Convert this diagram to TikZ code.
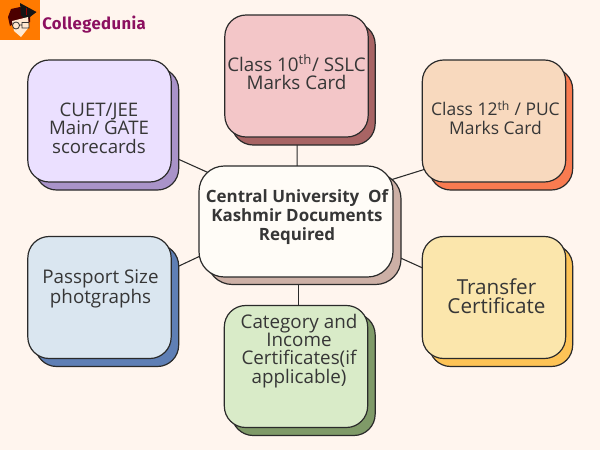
\documentclass[tikz,border=0pt]{standalone}
\usepackage{fontspec}
\setmainfont{Open Sans}
\newfontfamily\brandfont[LetterSpace=2.5]{Fira Sans}
\usetikzlibrary{backgrounds}
\definecolor{bgc}{HTML}{FFF5EE}
\definecolor{ink}{HTML}{2A2A2A}
\definecolor{txt}{HTML}{363636}
\definecolor{brand}{HTML}{8C1060}
\definecolor{orangeb}{HTML}{FF7A00}
\definecolor{fa}{HTML}{F3C6C8}\definecolor{sa}{HTML}{A86464}
\definecolor{fb}{HTML}{EBE0FF}\definecolor{sb}{HTML}{A993C9}
\definecolor{fc}{HTML}{F8D9BE}\definecolor{sc}{HTML}{F97B50}
\definecolor{fd}{HTML}{FFFCF7}\definecolor{sd}{HTML}{CDB0A6}
\definecolor{fe}{HTML}{DAE6F0}\definecolor{se}{HTML}{5F7FB5}
\definecolor{ff}{HTML}{FBE6AC}\definecolor{sf}{HTML}{FDC356}
\definecolor{fg}{HTML}{D9EBC8}\definecolor{sg}{HTML}{7F9A68}
\tikzset{
  x=0.75pt,y=-0.75pt,
  card/.style={draw=ink,line width=0.9pt,rounded corners=16pt,inner sep=0pt,
    minimum width=107.5pt,minimum height=#1},
  hub/.style={card=83.25pt,minimum width=145.5pt,rounded corners=19pt},
  link/.style={draw=ink,line width=0.8pt},
  body/.style={text=txt,align=center,font=\fontsize{14.1}{13.6}\selectfont,inner sep=0pt},
}
\begin{document}
\begin{tikzpicture}
\useasboundingbox (0,0) rectangle (600,450);
% shadows
\node[card=91.5pt,fill=sa] (topS) at (303.5,84) {};
\node[card=91.5pt,fill=sb] (ltS) at (107,129) {};
\node[card=91.5pt,fill=sc] (rtS) at (501,129) {};
\node[card=91.5pt,fill=se] (lbS) at (107,305.5) {};
\node[card=91.5pt,fill=sf] (rbS) at (501,305.5) {};
\node[card=91.5pt,fill=sg] (botS) at (303.5,374.5) {};
\node[hub,fill=sd] (cenS) at (304,229) {};
% fronts
\node[card=91.5pt,fill=fa] (top) at (296.5,76) {};
\node[card=91.5pt,fill=fb] (lt) at (99.5,121) {};
\node[card=91.5pt,fill=fc] (rt) at (494,121) {};
\node[card=91.5pt,fill=fe] (lb) at (99.5,297.5) {};
\node[card=91.5pt,fill=ff] (rb) at (494,297.5) {};
\node[card=91.5pt,fill=fg] (bot) at (296,366.5) {};
\node[hub,fill=fd] (cen) at (296,221.5) {};
% connectors
\begin{scope}[on background layer]
\fill[bgc] (0,0) rectangle (600,450);
\draw[link] ([xshift=0.5pt]top.center) -- ([xshift=0.75pt]cen.center);
\draw[link] ([xshift=2pt]cen.center) -- ([xshift=2pt]bot.center);
\draw[link] ([yshift=-2pt]lt.center) -- ([yshift=7pt]cen.center);
\draw[link] ([yshift=9pt]cen.center) -- ([yshift=-20pt]rt.center);
\draw[link] ([yshift=-4.5pt]lb.center) -- ([yshift=8pt]cen.center);
\draw[link] ([yshift=-2pt]rb.center) -- ([yshift=8pt]cen.center);
\end{scope}
% labels
\node[body] (ttop) at (296.5,72) {Class 10\textsuperscript{th}/ SSLC\\Marks Card};
\node[body,font=\fontsize{14}{14}\selectfont] (tlt) at (99,128) {CUET/JEE\\Main/ GATE\\scorecards};
\node[body,font=\fontsize{13.1}{13.6}\selectfont] (trt) at (495.5,117.5) {Class 12\textsuperscript{th} / PUC\\Marks Card};
\node[body] (tlb) at (100.5,289) {Passport Size\\photgraphs};
\node[body,font=\fontsize{15.5}{14.3}\selectfont] (trb) at (496.5,296) {Transfer\\Certificate};
\node[body] (tbot) at (299,351) {Category and\\Income\\Certificates(if\\applicable)};
\node[body,font=\bfseries\fontsize{12.7}{14.25}\selectfont] (tcen) at (297,217) {Central University\ \ Of\\Kashmir Documents\\Required};
% logo
\fill[orangeb] (0,0) rectangle (40,39.5);
\fill[black!70!red] (8,17) -- (11,9) -- (20,7) -- (30,12) -- (30,22) -- (13,24) -- (10,26) -- cycle;
\fill[black!92] (20,3) -- (36.5,12) -- (26,20) -- (21,15) -- cycle;
\draw[red!60!black,line width=0.6pt] (26,8) -- (26,15);
\fill[orange!18!white] (12,21) -- (28,17) -- (29,27) -- (21,37) -- (14,31) -- cycle;
\draw[black!80,line width=0.6pt] (16,25.5) circle (3.5) (22,22.5) rectangle (29,28) (19.5,25) -- (22,25);
\node[font=\brandfont\bfseries\fontsize{12.5}{12.5}\selectfont,text=brand,inner sep=0pt,anchor=west] (brandname) at (42,24.5) {Collegedunia};
\end{tikzpicture}
\end{document}
